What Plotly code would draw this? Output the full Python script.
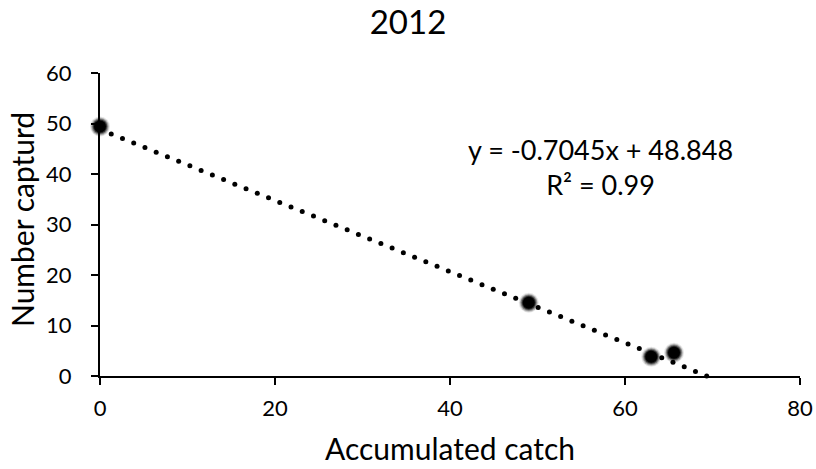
import numpy as np
import plotly.graph_objects as go

# Data
accumulated_catch = [0, 49, 63, 65.6]
number_captured = [49.4, 14.5, 3.8, 4.6]

# Linear trendline as printed on the chart
trend_slope = -0.7045
trend_intercept = 48.848
r_squared = 0.99

title_text = "2012"
x_title = "Accumulated catch"
y_title = "Number capturd"
x_ticks = [0, 20, 40, 60, 80]
y_ticks = [0, 10, 20, 30, 40, 50, 60]

FONT = "Lato, 'Open Sans', sans-serif"

fig = go.Figure()

# Dotted trendline (round dots) from x=0 to x-intercept
x_end = -trend_intercept / trend_slope
tx = np.linspace(0, x_end, 55)
ty = trend_slope * tx + trend_intercept
fig.add_trace(go.Scatter(
    x=tx, y=ty, mode="markers",
    marker=dict(size=5, color="black", line=dict(width=0)),
    hoverinfo="skip", showlegend=False, cliponaxis=False,
))

# Soft-edged data markers (layered to mimic a blurred edge)
for size, op in [(20, 0.1), (18, 0.2), (16, 0.35), (14, 0.6), (12, 1.0)]:
    fig.add_trace(go.Scatter(
        x=accumulated_catch, y=number_captured, mode="markers",
        marker=dict(size=size, color="black", opacity=op, line=dict(width=0)),
        showlegend=False, cliponaxis=False,
    ))

eq_text = f"y = {trend_slope}x + {trend_intercept}<br>R² = {r_squared}"
fig.add_annotation(
    x=0.715, y=0.69, xref="paper", yref="paper",
    text=eq_text, showarrow=False, align="center",
    font=dict(family=FONT, size=27, color="black"),
    xanchor="center", yanchor="middle",
)

# Axis titles placed as annotations for precise positioning
fig.add_annotation(
    x=0.5, y=(376 - 448) / 303.0, xref="paper", yref="paper", text=x_title,
    showarrow=False, font=dict(family=FONT, size=30, color="black"),
    xanchor="center", yanchor="middle",
)
fig.add_annotation(
    x=(22 - 100) / 700.0, y=(376 - 220) / 303.0, xref="paper", yref="paper",
    text=y_title, showarrow=False, textangle=-90,
    font=dict(family=FONT, size=30, color="black"),
    xanchor="center", yanchor="middle",
)

fig.update_layout(
    width=816, height=469,
    margin=dict(l=100, r=16, t=73, b=93),
    paper_bgcolor="white", plot_bgcolor="white",
    title=dict(text=title_text, x=0.5, xanchor="center", y=0.953, yanchor="middle",
               font=dict(family=FONT, size=33, color="black")),
    font=dict(family=FONT, color="black"),
    showlegend=False,
)

fig.update_xaxes(
    range=[0, 80], tickvals=x_ticks, showgrid=False, zeroline=False, automargin=False,
    showline=True, linecolor="black", linewidth=2,
    ticks="outside", ticklen=7, tickwidth=1.5, tickcolor="black",
    tickfont=dict(family=FONT, size=22, color="black"),
    ticklabelstandoff=5,
)
fig.update_yaxes(
    range=[0, 60], tickvals=y_ticks, showgrid=False, zeroline=False, automargin=False,
    showline=True, linecolor="black", linewidth=2,
    ticks="outside", ticklen=7, tickwidth=1.5, tickcolor="black",
    tickfont=dict(family=FONT, size=22, color="black"),
    ticklabelstandoff=15,
)

fig.write_html("out.html")
